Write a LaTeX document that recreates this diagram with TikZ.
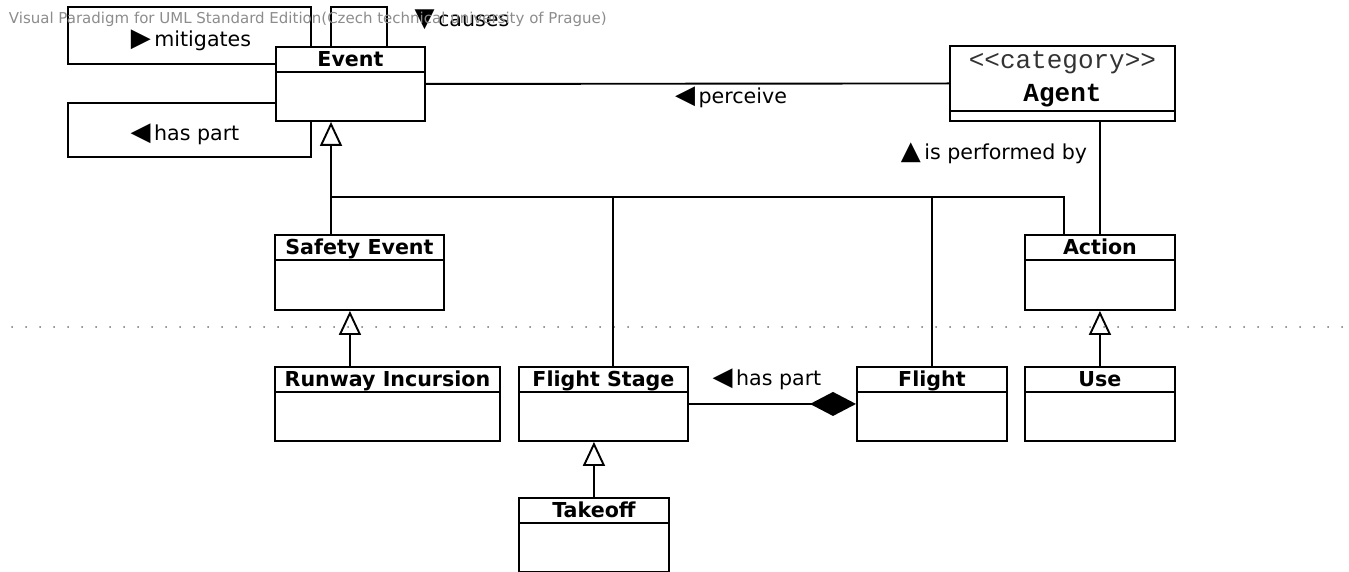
\documentclass[tikz,border=0pt]{standalone}
\usepackage{fontspec}
\setmainfont{DejaVu Sans}
\newfontfamily\umlmono{Liberation Mono}
\usetikzlibrary{arrows.meta}

% class box: name, x, y, width, height, title
\newcommand\umlclass[6]{%
  \node[classbox, minimum width=#4pt, minimum height=#5pt] (#1) at (#2,#3) {};
  \draw ([yshift=-26pt]#1.north west) -- ([yshift=-26pt]#1.north east);
  \node[classname] at ([yshift=-20.5pt]#1.north) {#6};}
\newcommand\dirmark[1]{{\fontsize{26}{26}\selectfont #1}}

\begin{document}
\begin{tikzpicture}[x=1pt, y=-1pt, line width=1.9pt,
  classbox/.style={draw, inner sep=0pt, anchor=north west},
  classname/.style={anchor=base, inner sep=0pt, font=\bfseries\fontsize{20.6}{20.6}\selectfont},
  lbl/.style={inner sep=0pt, font=\fontsize{20.6}{20.6}\selectfont},
  gen/.style={-{Triangle[open, length=24pt, width=22pt, line width=1.9pt]}},
  comp/.style={-{Diamond[length=46pt, width=24pt]}},
  sep/.style={line width=1.8pt, black!55, dash pattern=on 0.1pt off 13.9pt, line cap=round}]
\useasboundingbox (0,0) rectangle (1349,572);

% classes
\umlclass{event}{275}{46}{149}{74}{Event}
\umlclass{safety}{274}{234}{169}{75}{Safety Event}
\umlclass{action}{1024}{234}{150}{75}{Action}
\umlclass{runway}{274}{366}{225}{74}{Runway Incursion}
\umlclass{fstage}{518}{366}{169}{74}{Flight Stage}
\umlclass{flight}{856}{366}{150}{74}{Flight}
\umlclass{use}{1024}{366}{150}{74}{Use}
\umlclass{takeoff}{518}{497}{150}{73.5}{Takeoff}

% stereotyped class
\node[classbox, minimum width=225pt, minimum height=75pt] (agent) at (949,45) {};
\draw ([yshift=-66pt]agent.north west) -- ([yshift=-66pt]agent.north east);
\node[anchor=base, inner sep=0pt, font=\umlmono\fontsize{26}{26}\selectfont, text=black!80]
  at ([yshift=-24pt]agent.north) {<<category>>};
\node[anchor=base, inner sep=0pt, font=\umlmono\bfseries\fontsize{26}{26}\selectfont]
  at ([yshift=-57pt]agent.north) {Agent};

% package separator
\draw[sep] (12,327) -- (1345,327);

% generalization tree into Event
\coordinate (bus) at (331,197);
\draw[gen] (safety.north -| bus) -- (event.south -| bus);
\draw ([xshift=9.5pt]fstage.north) |- (bus);
\draw (flight.north) |- (bus);
\draw ([xshift=-36pt]action.north) |- (bus);

% other generalizations
\draw[gen] ([xshift=-37.5pt]runway.north) -- ([xshift=-37.5pt]runway.north |- safety.south);
\draw[gen] (takeoff.north) -- (takeoff.north |- fstage.south);
\draw[gen] (use.north) -- (use.north |- action.south);

% associations
\draw (event.east) -- (agent.west);
\draw (action.north) -- (action.north |- agent.south);
\draw[comp] (fstage.east) -- (flight.west);

% self associations of Event
\draw ([yshift=-18pt]event.north west) -| (68,7) -| ([xshift=36pt]event.north west);
\draw ([xshift=56pt]event.north west) -- ++(0,-39) -| ([xshift=112pt]event.north west);
\draw ([yshift=-57pt]event.north west) -| (68,157) -| ([xshift=36pt]event.south west);

% association labels
\node[lbl] (lmit) at (191,40) {\dirmark{▶}\,mitigates};
\node[lbl] (lpart) at (185,134) {\dirmark{◀}\,has part};
\node[lbl] (lcause) at (462,20) {\dirmark{▼}\,causes};
\node[lbl] (lperc) at (731,97) {\dirmark{◀}\,perceive};
\node[lbl] (lperf) at (994,153) {\dirmark{▲}\,is performed by};
\node[lbl] (lcomp) at (767,379) {\dirmark{◀}\,has part};

% editor watermark
\node[inner sep=0pt, anchor=west, text=black!45, font=\fontsize{15}{15}\selectfont]
  (mark) at (8,19) {Visual Paradigm for UML Standard Edition(Czech technical university of Prague)};
\end{tikzpicture}
\end{document}
